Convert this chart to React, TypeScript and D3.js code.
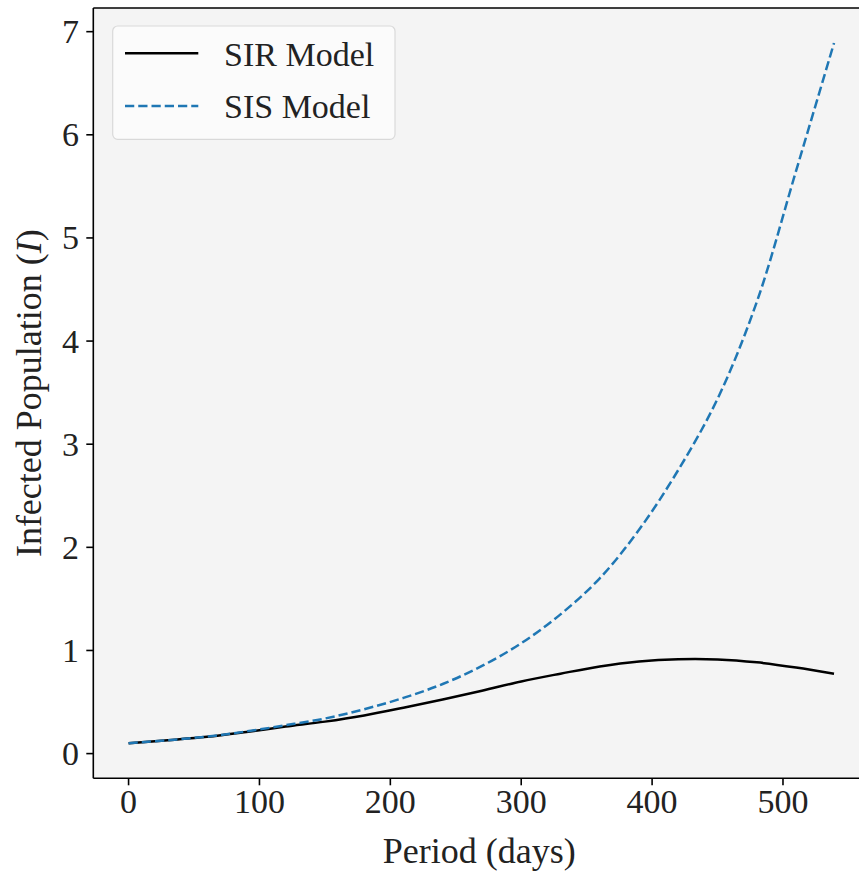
import React from "react";
import * as d3 from "d3";

const days = [0, 30, 60, 90, 120, 150, 180, 210, 240, 270, 300, 330, 360, 390, 420, 450, 480, 510, 539];
const sirValues = [0.10, 0.13, 0.163, 0.21, 0.262, 0.31, 0.37, 0.445, 0.525, 0.61, 0.70, 0.775, 0.845, 0.893, 0.915, 0.913, 0.885, 0.835, 0.775];
const sisValues = [0.10, 0.13, 0.165, 0.215, 0.275, 0.34, 0.43, 0.54, 0.675, 0.85, 1.07, 1.35, 1.70, 2.17, 2.75, 3.44, 4.38, 5.65, 6.89];
const xTicks = [0, 100, 200, 300, 400, 500];
const yTicks = [0, 1, 2, 3, 4, 5, 6, 7];
const seriesNames = ["SIR Model", "SIS Model"];

const W = 859;
const H = 875;
const left = 93.3;
const top = 8;
const bottom = 778.3;
const right = 869.3;
const FONT = "'Liberation Serif', 'Times New Roman', serif";

export default function App() {
  const xMin = d3.min(days)!;
  const xMax = d3.max(days)!;
  const xPad = (xMax - xMin) * 0.05;
  const x = d3.scaleLinear().domain([xMin - xPad, xMax + xPad]).range([left, right]);
  const all = [...sirValues, ...sisValues];
  const yMin = d3.min(all)!;
  const yMax = d3.max(all)!;
  const yPad = (yMax - yMin) * 0.05;
  const y = d3.scaleLinear().domain([yMin - yPad, yMax + yPad]).range([bottom, top]);

  const line = d3
    .line<number>()
    .x((_, i) => x(days[i]))
    .y((d) => y(d))
    .curve(d3.curveCatmullRom.alpha(0.5));

  const tickFs = 34;
  const labelFs = 36;

  return (
    <>
      <style>{"body{margin:0}"}</style>
      <svg width={W} height={H} style={{ display: "block", background: "#fff" }} fontFamily={FONT}>
        <defs>
          <clipPath id="plotclip">
            <rect x={left} y={top} width={right - left} height={bottom - top} />
          </clipPath>
        </defs>
        <rect x={left} y={top} width={right - left} height={bottom - top} fill="#f4f4f4" />
        <g clipPath="url(#plotclip)">
          <path d={line(sirValues) ?? ""} fill="none" stroke="#000" strokeWidth={2.5} />
          <path d={line(sisValues) ?? ""} fill="none" stroke="#1f77b4" strokeWidth={2.5} strokeDasharray="9.25,4" />
        </g>
        {/* spines */}
        <line x1={left} x2={left} y1={top} y2={bottom} stroke="#000" strokeWidth={1.6} />
        <line x1={left} x2={right} y1={bottom} y2={bottom} stroke="#000" strokeWidth={1.6} />
        <line x1={left} x2={right} y1={top} y2={top} stroke="#000" strokeWidth={1.6} />
        <line x1={right} x2={right} y1={top} y2={bottom} stroke="#000" strokeWidth={1.6} />
        {/* x ticks */}
        {xTicks.map((t) => (
          <g key={"x" + t}>
            <line x1={x(t)} x2={x(t)} y1={bottom} y2={bottom + 7} stroke="#000" strokeWidth={1.6} />
            <text x={x(t)} y={813} textAnchor="middle" fontSize={tickFs} fill="#222">
              {t}
            </text>
          </g>
        ))}
        {/* y ticks */}
        {yTicks.map((t) => (
          <g key={"y" + t}>
            <line x1={left - 7} x2={left} y1={y(t)} y2={y(t)} stroke="#000" strokeWidth={1.6} />
            <text x={79} y={y(t) + 11.5} textAnchor="end" fontSize={tickFs} fill="#222">
              {t}
            </text>
          </g>
        ))}
        {/* axis labels */}
        <text x={(left + right) / 2 - 2} y={863} textAnchor="middle" fontSize={labelFs} fill="#222">
          Period (days)
        </text>
        <text transform={`translate(41, ${(top + bottom) / 2}) rotate(-90)`} textAnchor="middle" fontSize={labelFs} fill="#222">
          Infected Population (<tspan fontStyle="italic">I</tspan>)
        </text>
        {/* legend */}
        <rect x={112.7} y={26} width={282.3} height={113.3} rx={5} ry={5} fill="#fbfbfb" stroke="#d9d9d9" strokeWidth={1.2} />
        <line x1={125} x2={198.3} y1={53.3} y2={53.3} stroke="#000" strokeWidth={2.5} />
        <line x1={125} x2={198.3} y1={106} y2={106} stroke="#1f77b4" strokeWidth={2.5} strokeDasharray="9.25,4" />
        <text x={224} y={65.5} fontSize={tickFs} fill="#222">
          {seriesNames[0]}
        </text>
        <text x={224} y={118} fontSize={tickFs} fill="#222">
          {seriesNames[1]}
        </text>
      </svg>
    </>
  );
}
